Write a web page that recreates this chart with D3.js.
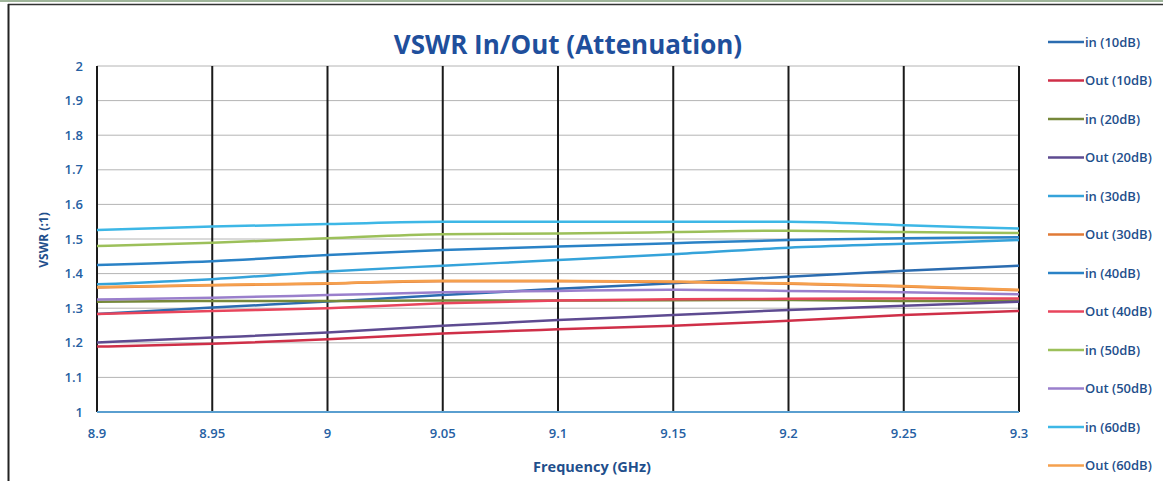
<!DOCTYPE html>
<html>
<head>
<meta charset="utf-8">
<script src="https://cdn.jsdelivr.net/npm/d3@7"></script>
<style>
  body { margin: 0; background: #fff; }
  text { font-family: "Open Sans", "DejaVu Sans", sans-serif; }
</style>
</head>
<body>
<div class="chart"></div>
<script>
// frequencies (GHz) where the curves were read
var freqs = [8.9, 8.95, 9.0, 9.05, 9.1, 9.15, 9.2, 9.25, 9.3];

// VSWR values per series
var in10  = [1.283, 1.302, 1.319, 1.338, 1.356, 1.372, 1.391, 1.408, 1.423];
var out10 = [1.189, 1.197, 1.210, 1.227, 1.239, 1.249, 1.264, 1.280, 1.292];
var in20  = [1.319, 1.321, 1.321, 1.322, 1.322, 1.323, 1.324, 1.321, 1.322];
var out20 = [1.201, 1.215, 1.230, 1.249, 1.266, 1.280, 1.295, 1.307, 1.319];
var in30  = [1.369, 1.384, 1.406, 1.423, 1.439, 1.456, 1.475, 1.486, 1.497];
var out30 = [1.360, 1.366, 1.371, 1.378, 1.378, 1.376, 1.371, 1.363, 1.352];
var in40  = [1.425, 1.436, 1.454, 1.468, 1.478, 1.488, 1.497, 1.502, 1.505];
var out40 = [1.283, 1.292, 1.300, 1.314, 1.322, 1.326, 1.327, 1.328, 1.328];
var in50  = [1.480, 1.489, 1.502, 1.514, 1.516, 1.520, 1.524, 1.520, 1.517];
var out50 = [1.325, 1.330, 1.338, 1.346, 1.350, 1.353, 1.350, 1.346, 1.340];
var in60  = [1.526, 1.536, 1.543, 1.550, 1.550, 1.550, 1.550, 1.540, 1.530];
var out60 = [1.361, 1.367, 1.372, 1.379, 1.379, 1.377, 1.372, 1.364, 1.353];

var seriesNames = ["in (10dB)", "Out (10dB)", "in (20dB)", "Out (20dB)", "in (30dB)", "Out (30dB)",
                   "in (40dB)", "Out (40dB)", "in (50dB)", "Out (50dB)", "in (60dB)", "Out (60dB)"];
var seriesValues = [in10, out10, in20, out20, in30, out30, in40, out40, in50, out50, in60, out60];
var seriesColors = ["#2b6cb0", "#cf2f48", "#76883a", "#5e4b91", "#35a3da", "#e07a36",
                    "#2a82c6", "#e8455c", "#9cc05a", "#9a7fcc", "#3db7e6", "#f5a04e"];

var xTicks = [8.9, 8.95, 9.0, 9.05, 9.1, 9.15, 9.2, 9.25, 9.3];
var yTicks = [1, 1.1, 1.2, 1.3, 1.4, 1.5, 1.6, 1.7, 1.8, 1.9, 2];

var width = 1163, height = 481;
var plotLeft = 97, plotRight = 1019, plotTop = 66, plotBottom = 412;

var svg = d3.select(".chart").append("svg")
  .attr("width", width)
  .attr("height", height);

// scanned page frame
svg.append("line").attr("x1", 0).attr("x2", width).attr("y1", 1).attr("y2", 1)
  .attr("stroke", "#9fb59a").attr("stroke-width", 2);
svg.append("line").attr("x1", 8).attr("x2", width).attr("y1", 4.5).attr("y2", 4.5)
  .attr("stroke", "#333").attr("stroke-width", 1.5);
svg.append("line").attr("x1", 8.5).attr("x2", 8.5).attr("y1", 4).attr("y2", height)
  .attr("stroke", "#222").attr("stroke-width", 2);

var x = d3.scaleLinear().domain([8.9, 9.3]).range([plotLeft, plotRight]);
var y = d3.scaleLinear().domain([1, 2]).range([plotBottom, plotTop]);

// horizontal gridlines
svg.append("g")
  .selectAll("line")
  .data(yTicks.slice(1))
  .enter().append("line")
  .attr("x1", plotLeft).attr("x2", plotRight)
  .attr("y1", function (d) { return y(d); })
  .attr("y2", function (d) { return y(d); })
  .attr("stroke", "#b4b4b4")
  .attr("stroke-width", 1);

// vertical gridlines (black)
svg.append("g")
  .selectAll("line")
  .data(xTicks)
  .enter().append("line")
  .attr("x1", function (d) { return x(d); })
  .attr("x2", function (d) { return x(d); })
  .attr("y1", plotTop).attr("y2", plotBottom)
  .attr("stroke", "#1a1a1a")
  .attr("stroke-width", 2);

// bottom axis line
svg.append("line")
  .attr("x1", plotLeft).attr("x2", plotRight)
  .attr("y1", plotBottom).attr("y2", plotBottom)
  .attr("stroke", "#5a9fd0")
  .attr("stroke-width", 2);

// y tick labels
svg.append("g")
  .selectAll("text")
  .data(yTicks)
  .enter().append("text")
  .attr("x", 83)
  .attr("y", function (d) { return y(d); })
  .attr("dy", "0.35em")
  .attr("text-anchor", "end")
  .attr("font-size", 13)
  .attr("font-weight", 600)
  .attr("fill", "#2560a3")
  .text(function (d) { return +d.toFixed(1); });

// x tick labels
svg.append("g")
  .selectAll("text")
  .data(xTicks)
  .enter().append("text")
  .attr("x", function (d) { return x(d); })
  .attr("y", 433)
  .attr("dy", "0.35em")
  .attr("text-anchor", "middle")
  .attr("font-size", 13)
  .attr("font-weight", 600)
  .attr("fill", "#2560a3")
  .text(function (d) { return +d.toFixed(2); });

// titles
svg.append("text")
  .attr("x", 568).attr("y", 45)
  .attr("dy", "0.35em")
  .attr("text-anchor", "middle")
  .attr("font-size", 26)
  .attr("font-weight", 700)
  .attr("fill", "#1f4f9c")
  .text("VSWR In/Out (Attenuation)");

svg.append("text")
  .attr("x", 592).attr("y", 467)
  .attr("dy", "0.35em")
  .attr("text-anchor", "middle")
  .attr("font-size", 14.5)
  .attr("font-weight", 700)
  .attr("fill", "#1f4f8c")
  .text("Frequency (GHz)");

svg.append("text")
  .attr("transform", "translate(44,240) rotate(-90)")
  .attr("dy", "0.35em")
  .attr("text-anchor", "middle")
  .attr("font-size", 12)
  .attr("font-weight", 700)
  .attr("fill", "#1f4f8c")
  .text("VSWR (:1)");

// series lines
var line = d3.line()
  .x(function (d, i) { return x(freqs[i]); })
  .y(function (d) { return y(d); })
  .curve(d3.curveMonotoneX);

svg.append("g")
  .selectAll("path")
  .data(seriesValues)
  .enter().append("path")
  .attr("d", line)
  .attr("fill", "none")
  .attr("stroke", function (d, i) { return seriesColors[i]; })
  .attr("stroke-width", 2.5);

// legend
var legend = svg.append("g")
  .selectAll("g")
  .data(seriesNames)
  .enter().append("g")
  .attr("transform", function (d, i) { return "translate(1048," + (42 + i * 38.5) + ")"; });

legend.append("line")
  .attr("x1", 0).attr("x2", 36)
  .attr("stroke", function (d, i) { return seriesColors[i]; })
  .attr("stroke-width", 2.5);

legend.append("text")
  .attr("x", 37)
  .attr("dy", "0.35em")
  .attr("font-size", 13)
  .attr("font-weight", 600)
  .attr("fill", "#1f4f8c")
  .text(function (d) { return d; });
</script>
</body>
</html>
